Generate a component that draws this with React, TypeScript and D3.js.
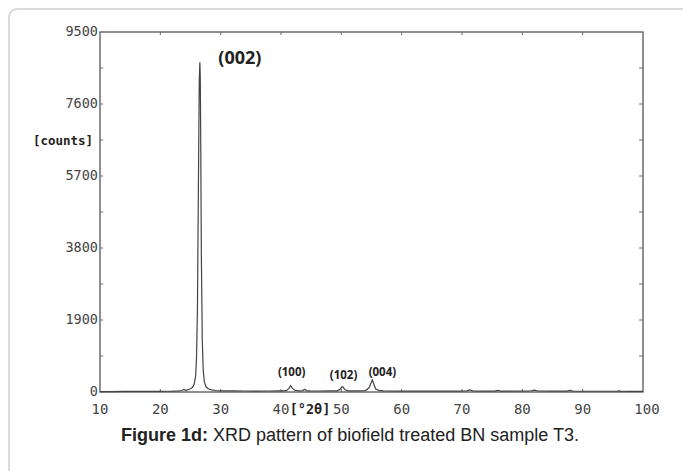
import React, { useEffect, useRef } from "react";
import * as d3 from "d3";

// 2θ (degrees) and intensity (counts)
const twoTheta = [
  10, 12, 14, 16, 18, 20, 21, 22, 23, 23.6, 23.9, 24.2, 24.5, 24.9, 25.3, 25.6, 25.85,
  26.0, 26.15, 26.3, 26.45, 26.55, 26.62, 26.7, 26.8, 26.95, 27.1, 27.3, 27.6, 28.0, 28.5, 29.2, 30,
  32, 34, 36, 38, 39.5, 40.5, 41.0, 41.3, 41.6, 41.9, 42.3, 43.0, 43.6, 43.9, 44.2, 44.8,
  46, 48, 49.3, 49.8, 50.1, 50.3, 50.6, 51.2, 52.5, 54.0, 54.6, 54.9, 55.15, 55.4, 55.7, 56.2, 57,
  60, 63, 66, 69, 70.8, 71.3, 71.8, 73, 75.4, 75.9, 76.4, 78, 81.4, 82, 82.6, 85, 87.4, 87.9, 88.4,
  91, 93, 95.6, 96.0, 96.4, 98, 100,
];
const counts = [
  12, 12, 14, 14, 16, 18, 20, 22, 28, 40, 70, 45, 55, 80, 120, 200, 420,
  900, 2200, 5200, 8200, 8700, 8300, 6500, 3600, 1400, 600, 260, 130, 80, 55, 40, 32,
  28, 26, 25, 26, 28, 32, 45, 90, 170, 95, 45, 32, 38, 75, 38, 28,
  26, 28, 32, 70, 140, 130, 60, 32, 30, 38, 110, 230, 320, 200, 80, 42, 30,
  25, 22, 22, 24, 30, 55, 30, 22, 24, 45, 24, 22, 26, 50, 26, 22, 24, 40, 22,
  20, 20, 20, 32, 20, 18, 18,
];

const xTicks = [10, 20, 30, 40, 50, 60, 70, 80, 90, 100];
const yTickLabels = [0, 1900, 3800, 5700, 7600, 9500];
const yMinorTicks = [950, 1900, 2850, 3800, 4750, 5700, 6650, 7600, 8550];

const peakNames = ["(002)", "(100)", "(102)", "(004)"];
const peakAt = [26.55, 41.6, 50.2, 55.15];

const App: React.FC = () => {
  const ref = useRef<SVGSVGElement>(null);

  useEffect(() => {
    if (!ref.current) return;
    const svg = d3.select(ref.current);
    svg.selectAll("*").remove();

    const W = 683;
    const H = 471;
    const left = 100, right = 643, top = 32, bottom = 392;
    const mono = "'DejaVu Sans Mono', monospace";

    const x = d3.scaleLinear().domain([10, 100]).range([left, right]);
    const y = d3.scaleLinear().domain([0, 9500]).range([bottom, top]);

    svg.append("rect").attr("width", W).attr("height", H).attr("fill", "#fff");

    // rounded frame around figure + caption
    svg.append("path")
      .attr("d", `M9,${H} L9,18 Q9,9 18,9 L${W},9`)
      .attr("fill", "none")
      .attr("stroke", "#cfcfcf")
      .attr("stroke-width", 1.5);

    // plot box
    svg.append("rect")
      .attr("x", left).attr("y", top)
      .attr("width", right - left).attr("height", bottom - top)
      .attr("fill", "none")
      .attr("stroke", "#555")
      .attr("stroke-width", 1.3);

    const g = svg.append("g").attr("stroke", "#666").attr("stroke-width", 1);
    // x ticks on bottom and top, pointing in
    xTicks.slice(1, -1).forEach(t => {
      g.append("line").attr("x1", x(t)).attr("x2", x(t)).attr("y1", bottom).attr("y2", bottom - 3);
      g.append("line").attr("x1", x(t)).attr("x2", x(t)).attr("y1", top).attr("y2", top + 3);
    });
    // y ticks on left and right
    yMinorTicks.forEach(t => {
      g.append("line").attr("x1", left).attr("x2", left + 3).attr("y1", y(t)).attr("y2", y(t));
      g.append("line").attr("x1", right).attr("x2", right - 4).attr("y1", y(t)).attr("y2", y(t));
    });

    // y labels
    svg.append("g")
      .selectAll("text")
      .data(yTickLabels)
      .join("text")
      .attr("x", left - 2)
      .attr("y", d => y(d) + 4)
      .attr("text-anchor", "end")
      .attr("font-family", mono)
      .attr("font-size", 13.5)
      .attr("fill", "#444")
      .text(d => d);

    // x labels
    svg.append("g")
      .selectAll("text")
      .data(xTicks)
      .join("text")
      .attr("x", d => x(d) + (d === 100 ? 4 : 0))
      .attr("y", 414)
      .attr("text-anchor", "middle")
      .attr("font-family", mono)
      .attr("font-size", 14)
      .attr("fill", "#444")
      .text(d => d);

    svg.append("text")
      .attr("x", 63).attr("y", 145)
      .attr("text-anchor", "middle")
      .attr("font-family", mono)
      .attr("font-weight", "bold")
      .attr("font-size", 12.5)
      .attr("fill", "#222")
      .text("[counts]");

    svg.append("text")
      .attr("x", 310).attr("y", 414)
      .attr("text-anchor", "middle")
      .attr("font-family", mono)
      .attr("font-weight", "bold")
      .attr("font-size", 13.5)
      .attr("fill", "#222")
      .text("[°2θ]");

    // pattern
    const pts = twoTheta.map((t, i) => [t, counts[i]] as [number, number]);
    const line = d3.line<[number, number]>()
      .x(d => x(d[0]))
      .y(d => y(d[1]));
    svg.append("path")
      .datum(pts)
      .attr("d", line)
      .attr("fill", "none")
      .attr("stroke", "#444")
      .attr("stroke-width", 1.2);

    // peak labels
    const labelPos = [
      { dx: 40, y: 64, size: 18 },
      { dx: 1, y: 376, size: 11.5 },
      { dx: 1, y: 379, size: 11.5 },
      { dx: 10, y: 376, size: 11.5 },
    ];
    peakNames.forEach((n, i) => {
      svg.append("text")
        .attr("x", x(peakAt[i]) + labelPos[i].dx)
        .attr("y", labelPos[i].y)
        .attr("text-anchor", "middle")
        .attr("font-family", "'Open Sans', 'Liberation Sans', sans-serif")
        .attr("font-weight", "bold")
        .attr("font-size", labelPos[i].size)
        .attr("fill", "#222")
        .text(n);
    });

    // caption
    const cap = svg.append("text")
      .attr("x", 350).attr("y", 441)
      .attr("text-anchor", "middle")
      .attr("font-family", "'Liberation Sans', Arial, sans-serif")
      .attr("font-size", 18)
      .attr("fill", "#222");
    cap.append("tspan").attr("font-weight", "bold").text("Figure 1d:");
    cap.append("tspan").text(" XRD pattern of biofield treated BN sample T3.");
  }, []);

  return (
    <svg
      ref={ref}
      width={683}
      height={471}
      style={{ position: "absolute", left: 0, top: 0, display: "block" }}
    />
  );
};

export default App;
